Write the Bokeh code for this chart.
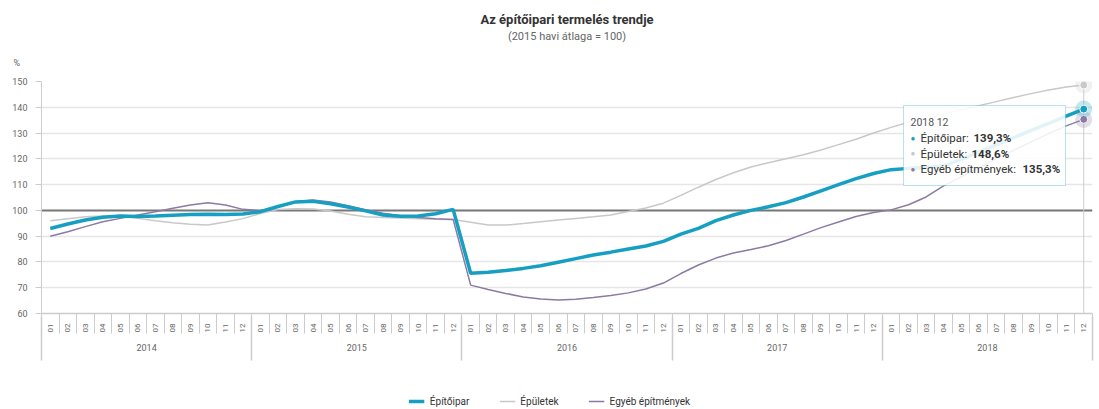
import math
from bokeh.plotting import figure
from bokeh.layouts import column
from bokeh.models import (Range1d, FixedTicker, LinearAxis, CustomJSTickFormatter, Span,
                          BoxAnnotation, Label, Legend, LegendItem, Title)
from bokeh.embed import file_html
from bokeh.resources import INLINE

# ---------------- data ----------------
months = ["01", "02", "03", "04", "05", "06", "07", "08", "09", "10", "11", "12"]
years = ["2014", "2015", "2016", "2017", "2018"]

epitoipar = [
    93.0, 94.7, 96.3, 97.3, 97.8, 97.6, 97.8, 98.1, 98.4, 98.5, 98.4, 98.6,
    99.5, 101.5, 103.3, 103.5, 102.6, 101.3, 99.8, 98.2, 97.7, 97.8, 98.7, 100.4,
    75.6, 76.0, 76.7, 77.5, 78.5, 79.9, 81.3, 82.7, 83.8, 85.0, 86.2, 88.0,
    90.8, 93.0, 96.0, 98.2, 100.0, 101.4, 103.0, 105.2, 107.6, 110.0, 112.3, 114.3,
    115.8, 116.3, 116.6, 117.2, 119.8, 122.6, 125.4, 128.2, 131.0, 133.8, 136.6, 139.3,
]
epuletek = [
    96.0, 96.8, 97.5, 97.8, 97.8, 96.9, 96.0, 95.2, 94.6, 94.3, 95.5, 96.8,
    98.8, 100.3, 100.6, 100.5, 99.8, 98.5, 97.5, 97.2, 97.0, 96.8, 96.6, 96.5,
    95.4, 94.3, 94.3, 94.9, 95.6, 96.3, 96.9, 97.5, 98.2, 99.6, 100.9, 102.8,
    105.8, 109.0, 112.0, 114.6, 116.8, 118.5, 120.0, 121.6, 123.4, 125.5, 127.6, 130.0,
    132.2, 134.2, 135.9, 137.4, 139.0, 140.6, 142.2, 143.8, 145.3, 146.7, 147.9, 148.6,
]
egyeb = [
    90.0, 91.7, 93.7, 95.6, 96.9, 98.2, 99.5, 100.8, 102.1, 103.0, 102.1, 100.4,
    99.9, 101.5, 103.4, 104.0, 103.3, 101.8, 100.3, 98.9, 97.9, 97.2, 96.8, 96.5,
    71.0, 69.3, 67.8, 66.4, 65.6, 65.2, 65.5, 66.2, 67.0, 68.0, 69.5, 71.8,
    75.5, 78.8, 81.5, 83.5, 84.8, 86.3, 88.3, 90.8, 93.3, 95.5, 97.6, 99.2,
    100.2, 102.2, 105.2, 109.5, 113.0, 116.5, 120.0, 123.3, 126.6, 129.8, 132.8, 135.3,
]
series_names = ["Építőipar", "Épületek", "Egyéb építmények"]
y_ticks = [60, 70, 80, 90, 100, 110, 120, 130, 140, 150]
title_text = "Az építőipari termelés trendje"
subtitle_text = "(2015 havi átlaga = 100)"
unit_text = "%"

# ---------------- styling ----------------
FONT = "Roboto"
TEAL = "#179fc2"
GRAY = "#c8c8c8"
PURPLE = "#8c7aa5"
GRID = "#e6e6e6"
AXIS = "#cccccc"
LABEL = "#666666"

FRAME_L, FRAME_T, FRAME_W, FRAME_H = 41, 81, 1051, 232
n = len(years) * len(months)
xs = [i + 0.5 for i in range(n)]
month_labels = [m for _ in years for m in months]

p = figure(frame_width=FRAME_W, frame_height=FRAME_H,
           x_range=Range1d(0, n), y_range=Range1d(y_ticks[0], y_ticks[-1]),
           output_backend="svg", toolbar_location=None, x_axis_location=None,
           min_border_left=FRAME_L, min_border_right=7, min_border_top=FRAME_T,
           min_border_bottom=76, title=None)
p.outline_line_color = None
p.background_fill_color = "white"
p.border_fill_color = "white"

# y axis
p.yaxis.ticker = FixedTicker(ticks=y_ticks)
p.yaxis.minor_tick_line_color = None
p.yaxis.major_tick_in = 0
p.yaxis.major_tick_out = 6
p.yaxis.major_tick_line_color = AXIS
p.yaxis.axis_line_color = AXIS
p.yaxis.major_label_text_font = FONT
p.yaxis.major_label_text_font_size = "9px"
p.yaxis.major_label_text_color = LABEL
p.yaxis.major_label_standoff = 8

p.ygrid.ticker = FixedTicker(ticks=[t for t in y_ticks if t != 100])
p.ygrid.grid_line_color = GRID
p.ygrid.grid_line_width = 1.5
p.xgrid.visible = False

# x axes: months and years
month_axis = LinearAxis(
    ticker=FixedTicker(ticks=xs, minor_ticks=list(range(n + 1))),
    formatter=CustomJSTickFormatter(args=dict(labels=month_labels),
                                    code="return labels[Math.floor(tick)] || '';"),
    major_tick_in=0, major_tick_out=0, minor_tick_in=0, minor_tick_out=20,
    minor_tick_line_color=AXIS, axis_line_color=AXIS, axis_line_width=1.5,
    major_label_orientation=math.pi / 2, major_label_text_font=FONT,
    major_label_text_font_size="8px", major_label_text_color=LABEL, major_label_standoff=-10)
p.add_layout(month_axis, "below")

year_axis = LinearAxis(
    ticker=FixedTicker(ticks=[12 * i + 6 for i in range(len(years))],
                       minor_ticks=[12 * i for i in range(len(years) + 1)]),
    formatter=CustomJSTickFormatter(args=dict(labels=years),
                                    code="return labels[Math.floor(tick / 12)] || '';"),
    major_tick_in=0, major_tick_out=0, minor_tick_in=19, minor_tick_out=25,
    minor_tick_line_color=AXIS, minor_tick_line_width=1.5, axis_line_color=None,
    major_label_text_font=FONT, major_label_text_font_size="9px",
    major_label_text_color=LABEL, major_label_standoff=-17)
p.add_layout(year_axis, "below")

# 100 reference line and crosshair
p.add_layout(Span(location=100, dimension="width", line_color="#777777", line_width=2, level="underlay"))
p.add_layout(Span(location=xs[-1], dimension="height", line_color=AXIS, line_width=1, level="underlay"))

# series
r_gray = p.line(xs, epuletek, line_color=GRAY, line_width=1.5)
r_purple = p.line(xs, egyeb, line_color=PURPLE, line_width=1.5)
r_teal = p.line(xs, epitoipar, line_color=TEAL, line_width=3.5)

for vals, col in ((epuletek, GRAY), (egyeb, PURPLE), (epitoipar, TEAL)):
    p.scatter([xs[-1]], [vals[-1]], size=17, fill_color=col, fill_alpha=0.25, line_color=None)
    p.scatter([xs[-1]], [vals[-1]], size=8, fill_color=col, line_color="white", line_width=1)

# tooltip (positions in screen pixels converted to data units)
PX = FRAME_W / n
PY = FRAME_H / (y_ticks[-1] - y_ticks[0])
def sx(px):
    return (px - FRAME_L) / PX
def sy(py):
    return y_ticks[-1] - (py - FRAME_T) / PY

box_l, box_r = sx(903), sx(1065)
p.add_layout(BoxAnnotation(left=box_l, right=box_r, top=sy(105), bottom=sy(185),
                           fill_color="white", fill_alpha=0.88, line_color=TEAL, line_width=1,
                           level="overlay"))

def fmt(v):
    return f"{v:.1f}".replace(".", ",") + "%"

def lab(text, off, py, color="#333333", bold=False, size="11.5px"):
    p.add_layout(Label(x=box_l, y=sy(py), x_offset=off, text=text, text_font=FONT,
                       text_font_size=size, text_color=color, text_baseline="middle",
                       text_align="left", text_font_style="bold" if bold else "normal",
                       level="overlay"))

lab("2018 12", 7, 121.5, color="#555555", size="10.5px")
rows = [(series_names[0], epitoipar[-1], TEAL, 70, 137.5),
        (series_names[1], epuletek[-1], GRAY, 68, 153),
        (series_names[2], egyeb[-1], PURPLE, 119, 168.5)]
for name, v, col, voff, py in rows:
    lab("●", 7, py, color=col, size="8px")
    lab(name + ":", 17, py)
    lab(fmt(v), voff, py, bold=True)

# titles
p.add_layout(Title(text=unit_text, align="left", offset=-28, text_font=FONT, text_font_size="9px",
                   text_color=LABEL, text_font_style="normal", standoff=27), "above")
p.add_layout(Title(text=subtitle_text, align="center", text_font=FONT, text_font_size="11px",
                   text_color=LABEL, text_font_style="normal", standoff=0), "above")
p.add_layout(Title(text=title_text, align="center", text_font=FONT, text_font_size="13px",
                   text_color="#333333", text_font_style="bold", standoff=1), "above")

# legend strip (separate figure below the chart; its lines sit outside its visible range)
leg = figure(frame_width=1099, frame_height=24, x_range=Range1d(-3, -2), y_range=Range1d(0, 1),
             output_backend="svg", toolbar_location=None, x_axis_location=None,
             y_axis_location=None, min_border=0, title=None)
leg.outline_line_color = None
leg.xgrid.visible = False
leg.ygrid.visible = False
leg.background_fill_color = "white"
leg.border_fill_color = "white"
l_teal = leg.line(xs, epitoipar, line_color=TEAL, line_width=3.5)
l_gray = leg.line(xs, epuletek, line_color=GRAY, line_width=1.5)
l_purple = leg.line(xs, egyeb, line_color=PURPLE, line_width=1.5)

legend = Legend(items=[LegendItem(label=series_names[0], renderers=[l_teal]),
                       LegendItem(label=series_names[1], renderers=[l_gray]),
                       LegendItem(label=series_names[2], renderers=[l_purple])],
                orientation="horizontal", location="center", border_line_color=None,
                background_fill_alpha=0, label_text_font=FONT, label_text_font_size="10px",
                label_text_color="#333333", glyph_width=16, glyph_height=12, label_height=12,
                label_standoff=5, spacing=30, padding=0, margin=0)
leg.add_layout(legend)

layout = column(p, leg, spacing=0)
open("out.html", "w").write(file_html(layout, INLINE))
